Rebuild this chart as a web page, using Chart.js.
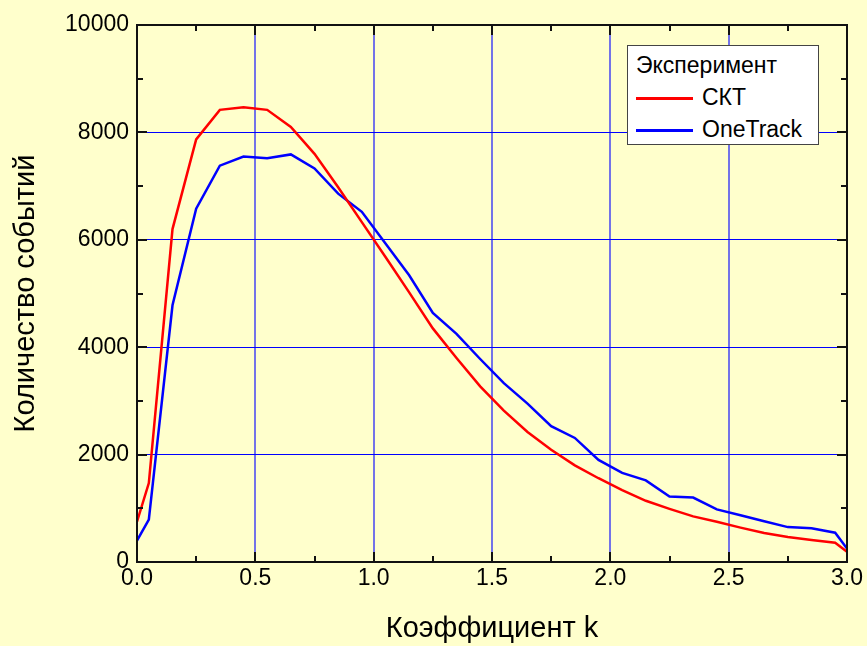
<!DOCTYPE html>
<html>
<head>
<meta charset="utf-8">
<script src="https://cdn.jsdelivr.net/npm/chart.js@4.4.0/dist/chart.umd.min.js"></script>
<style>
  html, body { margin: 0; padding: 0; background: #ffffcc; }
  #wrap { position: relative; width: 867px; height: 646px; }
  #legend {
    position: absolute; left: 627px; top: 45px; width: 192px; height: 100px;
    box-sizing: border-box; background: #fff; border: 1px solid #444;
    font: 23px "Liberation Sans", Arial, sans-serif; color: #000;
  }
  #legend div { position: absolute; left: 8px; height: 32px; line-height: 32px; white-space: nowrap; }
  #legend .swatch { display: inline-block; width: 57px; height: 3px; vertical-align: middle; margin-right: 9px; }
</style>
</head>
<body>
<div id="wrap">
  <canvas id="chart" width="867" height="646"></canvas>
  <div id="legend"></div>
</div>
<script>
// ********************* data ***********************
const kValues = [0, 0.05, 0.15, 0.25, 0.35, 0.45, 0.55, 0.65, 0.75, 0.85, 0.95,
    1.05, 1.15, 1.25, 1.35, 1.45, 1.55, 1.65, 1.75, 1.85, 1.95,
    2.05, 2.15, 2.25, 2.35, 2.45, 2.55, 2.65, 2.75, 2.85, 2.95, 3.0];

const sktCounts = [750, 1470, 6200, 7870, 8420, 8470, 8420, 8100, 7600, 6980, 6330,
    5680, 5020, 4350, 3800, 3270, 2820, 2420, 2090, 1800, 1560,
    1340, 1140, 990, 850, 750, 640, 540, 465, 410, 360, 190];

const oneTrackCounts = [400, 790, 4780, 6580, 7380, 7550, 7520, 7590, 7330, 6860, 6520,
    5930, 5340, 4640, 4250, 3780, 3330, 2950, 2530, 2310, 1900,
    1660, 1520, 1220, 1200, 980, 870, 760, 650, 630, 545, 250];

const xTicks = [0, 0.5, 1.0, 1.5, 2.0, 2.5, 3.0];
const yTicks = [0, 2000, 4000, 6000, 8000, 10000];

const legendTitle = 'Эксперимент';

// ********************* helpers ***********************
function points(ys) {
    return kValues.map((k, i) => ({ x: k, y: ys[i] }));
}

function midpoints(list) {
    const out = [];
    for (let i = 0; i < list.length - 1; i++) out.push((list[i] + list[i + 1]) / 2);
    return out;
}

// frame + inward tick marks on all four sides
const frameTicks = {
    id: 'frameTicks',
    afterDraw(chart) {
        const { ctx, chartArea: a, scales: { x, y } } = chart;
        ctx.save();
        ctx.strokeStyle = '#111';
        ctx.lineWidth = 2;
        ctx.beginPath();
        const xMark = (v, len) => {
            const px = Math.round(x.getPixelForValue(v));
            ctx.moveTo(px, a.bottom); ctx.lineTo(px, a.bottom - len);
            ctx.moveTo(px, a.top); ctx.lineTo(px, a.top + len);
        };
        const yMark = (v, len) => {
            const py = Math.round(y.getPixelForValue(v));
            ctx.moveTo(a.left, py); ctx.lineTo(a.left + len, py);
            ctx.moveTo(a.right, py); ctx.lineTo(a.right - len, py);
        };
        xTicks.forEach(v => xMark(v, 10));
        midpoints(xTicks).forEach(v => xMark(v, 6));
        yTicks.forEach(v => yMark(v, 10));
        midpoints(yTicks).forEach(v => yMark(v, 6));
        ctx.stroke();
        ctx.strokeRect(a.left, a.top, a.right - a.left, a.bottom - a.top);
        ctx.restore();
    }
};

// ********************* chart ***********************
const chartData = {
    datasets: [{
        label: 'СКТ',
        data: points(sktCounts),
        borderColor: '#ff0000',
        backgroundColor: '#ff0000',
        borderWidth: 2.5,
    }, {
        label: 'OneTrack',
        data: points(oneTrackCounts),
        borderColor: '#0000ff',
        backgroundColor: '#0000ff',
        borderWidth: 2.5,
    }]
};

const config = {
    type: 'line',
    data: chartData,
    options: {
        responsive: false,
        animation: false,
        devicePixelRatio: 1,
        layout: { padding: { top: 25, right: 20, left: 0, bottom: 0 } },
        elements: { point: { radius: 0 }, line: { tension: 0 } },
        plugins: { legend: { display: false }, tooltip: { enabled: false } },
        scales: {
            x: {
                type: 'linear',
                min: 0,
                max: 3,
                afterBuildTicks: s => { s.ticks = xTicks.map(v => ({ value: v })); },
                afterFit: s => { s.height = 84; },
                ticks: {
                    color: '#000',
                    padding: 3,
                    maxRotation: 0,
                    font: { family: 'Liberation Sans', size: 23 },
                    callback: v => Number(v).toFixed(1),
                },
                grid: { color: 'rgba(0,0,255,0.55)', lineWidth: 2, drawTicks: false },
                border: { display: false },
                title: {
                    display: true,
                    text: 'Коэффициент k',
                    color: '#000',
                    font: { family: 'Liberation Sans', size: 29 },
                    padding: { top: 0, bottom: 0 },
                },
            },
            y: {
                min: 0,
                max: 10000,
                afterBuildTicks: s => { s.ticks = yTicks.map(v => ({ value: v })); },
                afterFit: s => { s.width = 137; },
                ticks: {
                    color: '#000',
                    padding: 8,
                    font: { family: 'Liberation Sans', size: 23 },
                    callback: v => String(v),
                },
                grid: { color: '#0000ff', lineWidth: 1, drawTicks: false },
                border: { display: false },
                title: {
                    display: true,
                    text: 'Количество событий',
                    color: '#000',
                    font: { family: 'Liberation Sans', size: 29 },
                    padding: { top: 9, bottom: 0 },
                },
            },
        },
    },
    plugins: [frameTicks],
};

const chart = new Chart(document.getElementById('chart'), config);

// ********************* legend ***********************
const legend = document.getElementById('legend');
let html = '<div style="top:3px">' + legendTitle + '</div>';
chart.data.datasets.forEach((ds, i) => {
    html += '<div style="top:' + (35 + i * 32) + 'px"><span class="swatch" style="background:' +
        ds.borderColor + '"></span>' + ds.label + '</div>';
});
legend.innerHTML = html;
</script>
</body>
</html>
